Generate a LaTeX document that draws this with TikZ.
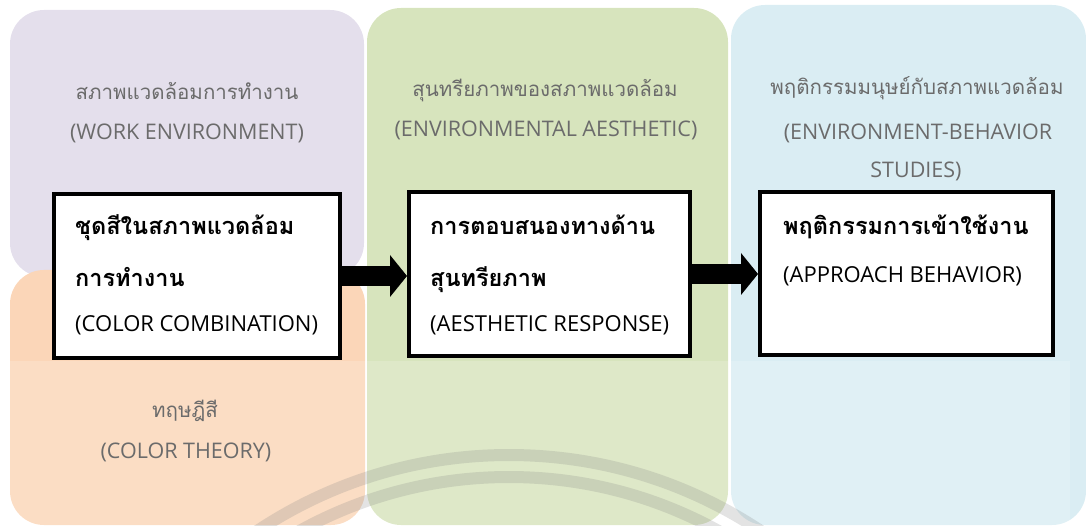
\documentclass[tikz,border=0pt]{standalone}
\usepackage{fontspec}
\setmainfont{Open Sans}
\newfontfamily\thaifont[Script=Thai]{Loma}
\usepackage{tikz}
\usetikzlibrary{arrows.meta,positioning}

\definecolor{workbg}{HTML}{E4DFEC}
\definecolor{theorybg}{HTML}{FBD6B8}
\definecolor{aesthbg}{HTML}{D7E4BD}
\definecolor{behavbg}{HTML}{DAEDF3}
\definecolor{headgray}{HTML}{6B6B6B}

\tikzset{
  envbox/.style={fill=#1, draw=none, rounded corners=34pt},
  conceptbox/.style={draw=black, line width=4pt, fill=white, inner sep=0pt},
  headth/.style={font=\thaifont\fontsize{20.5}{20.5}\selectfont, text=headgray, inner sep=0pt, anchor=base},
  headen/.style={font=\fontsize{21.5}{21.5}\selectfont, text=headgray, inner sep=0pt, anchor=base},
  boxth/.style={font=\thaifont\bfseries\fontsize{23.5}{23.5}\selectfont, inner sep=0pt, anchor=base west},
  boxen/.style={font=\fontsize{22}{22}\selectfont, inner sep=0pt, anchor=base west},
  flow/.style={line width=20pt, -{Triangle[width=42pt,length=17pt,line width=0pt]}},
}

\begin{document}
\begin{tikzpicture}[x=1pt, y=-1pt]
\useasboundingbox (0,0) rectangle (1086,526);
%%%%% Background %%%%%
\fill[envbox=workbg] (10,10) rectangle (364,277);
\fill[envbox=theorybg] (10,270) rectangle (365,525);
\fill[envbox=aesthbg] (367,8) rectangle (728,525);
\fill[envbox=behavbg] (731,5) rectangle (1086,525);
\fill[white, opacity=0.18] (10,361) rectangle (1070,526);
\begin{scope}
\clip (0,0) rectangle (1086,526);
\foreach \r in {455,433}{
\draw[gray, opacity=0.22, line width=12pt] (509,910) circle (\r);
}
\end{scope}
%%%%% Headings %%%%%
\node[headth] (workth) at (187,100) {สภาพแวดล้อมการทำงาน};
\node[headen] (worken) at (187,140) {(WORK ENVIRONMENT)};
\node[headth] (aesth) at (545,97) {สุนทรียภาพของสภาพแวดล้อม};
\node[headen] (aesen) at (546,137) {(ENVIRONMENTAL AESTHETIC)};
\node[headth] (ebsth) at (917,95) {พฤติกรรมมนุษย์กับสภาพแวดล้อม};
\node[headen] (ebsen) at (918,140) {(ENVIRONMENT-BEHAVIOR};
\node[headen] (ebsen2) at (916,178) {STUDIES)};
\node[headth] (theoth) at (185,417) {ทฤษฎีสี};
\node[headen] (theoen) at (186,458) {(COLOR THEORY)};
%%%%% Concept boxes %%%%%
\node[conceptbox, minimum width=286pt, minimum height=164pt] (combo) at (197,276) {};
\node[conceptbox, minimum width=281pt, minimum height=164pt] (resp) at (549.5,274) {};
\node[conceptbox, minimum width=293pt, minimum height=163pt] (appr) at (906.5,273.5) {};
\node[boxth] (combo1) at (75,235) {ชุดสีในสภาพแวดล้อม};
\node[boxth] (combo2) at (75,287) {การทำงาน};
\node[boxen] (combo3) at (75,331) {(COLOR COMBINATION)};
\node[boxth] (resp1) at (430,235) {การตอบสนองทางด้าน};
\node[boxth] (resp2) at (430,287) {สุนทรียภาพ};
\node[boxen] (resp3) at (430,331) {(AESTHETIC RESPONSE)};
\node[boxth] (appr1) at (783,235) {พฤติกรรมการเข้าใช้งาน};
\node[boxen] (appr2) at (783,283) {(APPROACH BEHAVIOR)};
%%%%% Arrows %%%%%
\draw[flow] (combo.east) -- (combo.east -| resp.west);
\draw[flow] (resp.east) -- (resp.east -| appr.west);
\end{tikzpicture}
\end{document}
